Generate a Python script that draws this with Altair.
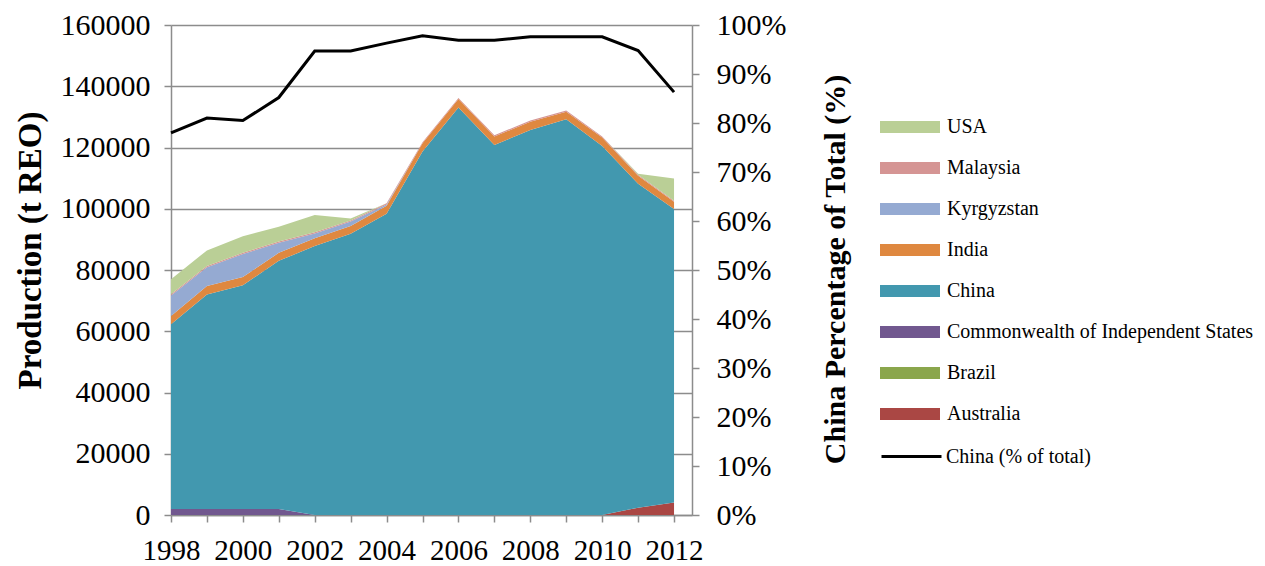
import altair as alt
import pandas as pd

years = list(range(1998, 2013))
australia = [0, 0, 0, 0, 0, 0, 0, 0, 0, 0, 0, 0, 0, 2400, 4100]
brazil = [0, 0, 0, 0, 0, 0, 0, 0, 0, 0, 0, 0, 0, 0, 0]
cis = [2000, 2000, 2000, 2000, 0, 0, 0, 0, 0, 0, 0, 0, 0, 0, 0]
china = [60300, 70000, 73000, 81000, 87800, 91800, 98400, 118700, 133100,
         120800, 125700, 129200, 120500, 105800, 95800]
india = [2700, 2800, 2700, 2600, 2600, 2600, 2600, 2700, 2700, 2800, 2700,
         2500, 2800, 2600, 2400]
kyrgyzstan = [6700, 6100, 7500, 3300, 1500, 1400, 400, 0, 0, 0, 0, 0, 0, 0, 0]
malaysia = [400, 400, 400, 400, 400, 400, 400, 300, 400, 400, 400, 400, 300,
            300, 300]
usa = [4900, 5100, 5400, 4800, 5700, 600, 0, 0, 0, 0, 0, 0, 0, 300, 7300]
china_pct = [0.78, 0.81, 0.805, 0.852, 0.947, 0.947, 0.963, 0.978, 0.969,
             0.969, 0.976, 0.976, 0.976, 0.948, 0.863]

# bottom-to-top stacking order
countries = ["Australia", "Brazil", "Commonwealth of Independent States",
             "China", "India", "Kyrgyzstan", "Malaysia", "USA"]
series = [australia, brazil, cis, china, india, kyrgyzstan, malaysia, usa]
colors = ["#AA4744", "#8AA64C", "#71588F", "#4298AF", "#DF8840", "#95AAD2",
          "#D59594", "#BACF96"]

rows = []
for i, (name, vals) in enumerate(zip(countries, series)):
    for y, v in zip(years, vals):
        rows.append({"year": y, "country": name, "value": v, "ord": i})
area_df = pd.DataFrame(rows)
line_df = pd.DataFrame({"year": years, "pct": china_pct,
                        "label": ["China (% of total)"] * len(years)})

FONT = "Liberation Serif"
GRAY = "#8c8c8c"
x_scale = alt.Scale(domain=[1998, 2012.5], nice=False, zero=False)
x_axis = alt.Axis(values=years, format="d",
                  labelExpr="datum.value % 2 == 0 ? datum.label : ''",
                  grid=False, tickSize=7, labelPadding=14, title=None,
                  labelFontSize=29, labelFlush=False)

legend_path = "M-3,-0.6H3V0.6H-3Z"

areas = alt.Chart(area_df).mark_area(opacity=1).encode(
    x=alt.X("year:Q", scale=x_scale, axis=x_axis),
    y=alt.Y("value:Q", stack="zero",
            scale=alt.Scale(domain=[0, 160000], nice=False),
            axis=alt.Axis(values=list(range(0, 160001, 20000)), format="d",
                          grid=True, tickSize=7, labelPadding=14,
                          title="Production (t REO)", titleX=-141, titleY=225,
                          titleAngle=270, titleAlign="center",
                          titleBaseline="middle", titleFontSize=33,
                          titleFontWeight="bold", labelFontSize=30)),
    color=alt.Color("country:N",
                    scale=alt.Scale(domain=countries[::-1], range=colors[::-1]),
                    legend=alt.Legend(title=None, orient="none", legendX=729,
                                      legendY=92, symbolType=legend_path,
                                      symbolSize=400, symbolStrokeWidth=0,
                                      labelOffset=27, rowPadding=21,
                                      labelFontSize=20, labelFont=FONT,
                                      labelColor="black", padding=0,
                                      labelLimit=400, symbolOpacity=1)),
    order=alt.Order("ord:Q", sort="ascending"),
)

line = alt.Chart(line_df).mark_line(strokeWidth=3).encode(
    x=alt.X("year:Q", scale=x_scale, axis=x_axis),
    y=alt.Y("pct:Q", scale=alt.Scale(domain=[0, 1], nice=False),
            axis=alt.Axis(values=[i / 10 for i in range(11)], format=".0%",
                          orient="right", grid=False, tickSize=7,
                          labelPadding=17,
                          title="China Percentage of Total (%)", titleX=143,
                          titleY=244, titleAngle=270, titleAlign="center",
                          titleBaseline="middle", titleFontSize=30,
                          titleFontWeight="bold", labelFontSize=30)),
    stroke=alt.Stroke("label:N",
                      scale=alt.Scale(domain=["China (% of total)"],
                                      range=["black"]),
                      legend=alt.Legend(title=None, orient="none", legendX=729,
                                        legendY=420,
                                        symbolType="M-3,0H3",
                                        symbolSize=400, symbolStrokeWidth=3,
                                        labelOffset=23, labelFontSize=20,
                                        labelFont=FONT, labelColor="black",
                                        padding=0, labelLimit=400)),
)

chart = alt.layer(areas, line).resolve_scale(
    y="independent", color="independent", stroke="independent"
).properties(
    width=521, height=490,
    autosize=alt.AutoSizeParams(type="none"),
    padding={"left": 163, "top": 17, "right": 565, "bottom": 51},
).configure_view(stroke=None).configure_axis(
    domainColor=GRAY, tickColor=GRAY, gridColor=GRAY, gridOpacity=1,
    domainWidth=1.5, tickWidth=1.5, gridWidth=1.5,
    labelFont=FONT, titleFont=FONT, labelColor="black", titleColor="black",
)

chart.save("out.html", embed_options={"renderer": "svg", "actions": False})
